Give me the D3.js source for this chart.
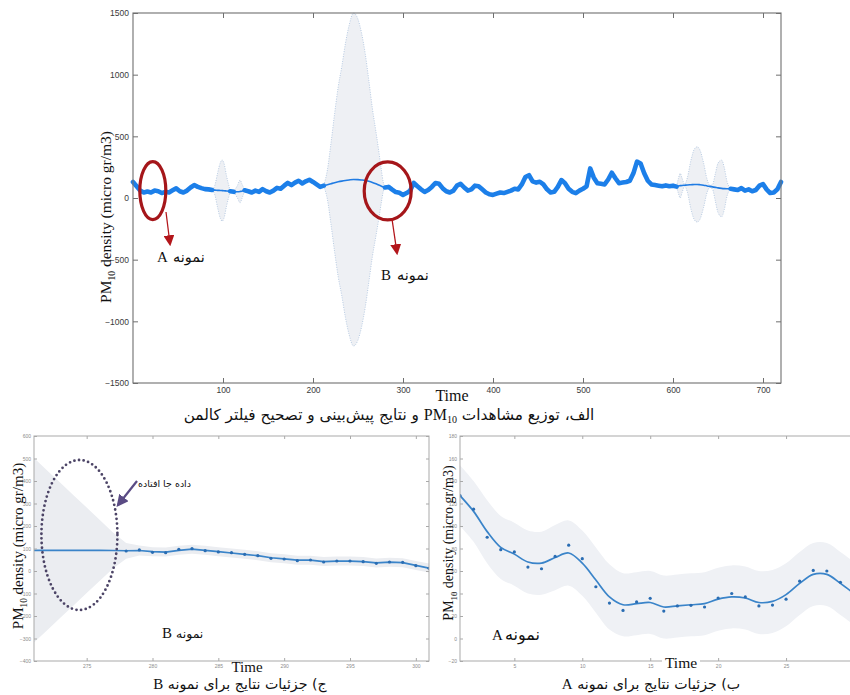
<!DOCTYPE html>
<html>
<head>
<meta charset="utf-8">
<script src="https://cdn.jsdelivr.net/npm/d3@7"></script>
<style>
  body { margin: 0; background: #fff; }
  svg { display: block; }
</style>
</head>
<body>
<svg id="fig" width="850" height="695"></svg>
<script>
// ---------------- data: full PM10 record (every 4th time step) ----------------
const obsTime = d3.range(0, 721, 4);
const obsValue = [
  130, 95, 60, 45, 52, 45, 60, 55, 40, 50,            // t 0-36
  45, 62, 78, 55, 45, 60, 85, 105, 90, 80,            // t 40-76
  72, 70, 65, null, null, null, null, 55, 50, null,   // t 80-116
  null, 62, 55, 45, 60, 50, 72, 55, 45, 60,           // t 120-156
  82, 75, 100, 122, 105, 125, 140, 118, 135, 148,     // t 160-196
  130, 110, 90, 100, null, null, null, null, null, null, // t 200-236
  null, null, null, null, null, null, null, null, null, null, // t 240-276
  85, 90, 68, 48, 42, 25, 40, 60, 122, 95,            // t 280-316
  70, 50, 65, 90, 122, 115, 80, 55, 45, 60,           // t 320-356
  100, 115, 85, 60, 70, 100, 95, 70, 45, 30,          // t 360-396
  25, 35, 45, 40, 50, 60, 75, 70, 110, 170,           // t 400-436
  185, 135, 125, 132, 110, 70, 45, 50, 90, 145,       // t 440-476
  120, 75, 50, 40, 60, 75, 95, 240, 165, 120,         // t 480-516
  115, 110, 150, 205, 160, 120, 125, 130, 140, 200,   // t 520-556
  295, 280, 200, 140, 110, 105, 100, 95, 102, 95,     // t 560-596
  100, 92, null, null, null, null, null, null, null, null, // t 600-636
  null, null, null, null, null, null, 75, 70, 65, 80, // t 640-676
  60, 70, 55, 65, 100, 112, 70, 40, 45, 70,           // t 680-716
  130                                                 // t 720
];

// Kalman prediction over the missing stretches (null = break between stretches)
const kfTime  = [88, 91, 94, 97, 99, 101, 104, 108, null,
                 112, 116, 119, 121, 124, null,
                 212, 216, 220, 224, 228, 232, 236, 240, 245, 250, 254, 258, 262, 266, 270, 273, 276, 278, 280, null,
                 604, 606, 608, 610, 613, 616, 620, 624, 627, 630, 634, 638, 641, 644, 647, 650, 654, 657, 660, 664];
const kfMean  = [65, 64, 62, 61, 60, 59, 57, 55, null,
                 50, 51, 53, 55, 62, null,
                 100, 108, 116, 124, 131, 137, 142, 146, 150, 149, 146, 142, 135, 126, 115, 105, 96, 90, 85, null,
                 92, 98, 100, 102, 104, 106, 108, 110, 110, 108, 104, 98, 94, 90, 86, 82, 78, 76, 75, 75];
const kfSigma = [3, 40, 140, 225, 248, 225, 120, 3, null,
                 3, 50, 92, 60, 3, null,
                 5, 120, 330, 560, 770, 930, 1110, 1250, 1350, 1300, 1190, 1030, 820, 600, 420, 280, 130, 40, 5, null,
                 3, 60, 100, 60, 8, 60, 200, 290, 305, 280, 180, 50, 8, 20, 110, 200, 230, 170, 60, 3];

const topXTicks = [100, 200, 300, 400, 500, 600, 700];
const topYTicks = [-1500, -1000, -500, 0, 500, 1000, 1500];

// ---------------- data: detail of sample A ----------------
const aTime  = [1, 2, 3, 4, 5, 6, 7, 8, 9, 10, 11, 12, 13, 14, 15, 16, 17, 18, 19, 20, 21, 22, 23, 24, 25, 26, 27, 28, 29, 30];
const aObs   = [127, 115, 90, 79, 77, 63.5, 62, 73, 83, 71, 46, 31.5, 25, 32.5, 35.7, 24.4, 29, 29.5, 28, 36, 40, 37, 29, 29.7, 35, 51, 60.5, 60, 50, null];
const aEst   = [127, 113, 95, 81, 75, 68, 67, 72, 76, 67, 52, 37, 30, 31, 32, 28, 29, 30, 31, 35, 37, 36, 32, 33, 39, 49, 57, 57, 49, 40];
const aSigma = [27, 27, 28, 28, 28, 28, 28, 29, 29, 29, 29, 29, 28, 28, 28, 28, 28, 28, 28, 28, 28, 28, 28, 28, 28, 28, 28, 28, 28, 28];
const aXTicks = [5, 10, 15, 20, 25];
const aYTicks = [-20, 0, 20, 40, 60, 80, 100, 120, 140, 160, 180];

// ---------------- data: detail of sample B ----------------
const bTime  = [271, 272, 273, 274, 275, 276, 277, 278, 279, 280, 281, 282, 283, 284, 285, 286, 287, 288, 289, 290, 291, 292, 293, 294, 295, 296, 297, 298, 299, 300, 301];
const bObs   = [null, null, null, null, null, null, null, 89, 93.5, 83, 81.5, 96.7, 99.5, 90.4, 85, 81.6, 74.2, 68.3, 56.4, 53.4, 46, 49, 40, 44.5, 44.5, 41.6, 34.1, 40, 38.6, 23.8, 11.9];
const bEst   = [92, 92, 92, 92, 92, 92, 91, 90, 91, 86, 84, 92, 97, 92, 86, 80, 74, 68, 59, 54, 48, 48, 42, 44, 44, 42, 36, 39, 37, 25, 13];
const bSigma = [410, 355, 300, 245, 190, 135, 80, 35, 22, 20, 20, 20, 20, 20, 20, 20, 20, 20, 20, 20, 20, 20, 20, 20, 20, 20, 20, 20, 20, 20, 20];
const bXTicks = [275, 280, 285, 290, 295, 300];
const bYTicks = [-400, -300, -200, -100, 0, 100, 200, 300, 400, 500, 600];

// ---------------- drawing ----------------
const svg = d3.select("#fig");
const defs = svg.append("defs");
const SERIF = "'Liberation Serif', 'Times New Roman', serif";
const SANS = "'Liberation Sans', Arial, sans-serif";
const FA = "'DejaVu Sans', sans-serif";

function marker(id, color, size) {
  defs.append("marker")
    .attr("id", id).attr("viewBox", "0 0 10 10")
    .attr("refX", 8).attr("refY", 5)
    .attr("markerWidth", size).attr("markerHeight", size)
    .attr("markerUnits", "userSpaceOnUse")
    .attr("orient", "auto")
    .append("path").attr("d", "M0,0 L10,5 L0,10 Z").attr("fill", color);
}
marker("arrowRed", "#b3161b", 11);
marker("arrowPurple", "#5a4b84", 12);

// box with inward ticks on all four sides, labels on left and bottom
function drawFrame(g, x, y, box, xt, yt, o) {
  const ax = (gen, tx, ty, labels) => {
    const a = g.append("g").attr("transform", `translate(${tx},${ty})`)
      .call(gen.tickSizeInner(-o.tick).tickSizeOuter(0).tickPadding(o.pad)
        .tickFormat(labels ? d3.format("d") : () => ""));
    a.select(".domain").remove();
    a.selectAll(".tick line").attr("stroke", o.color).attr("stroke-width", 1);
    a.selectAll("text").attr("font-family", SANS).attr("font-size", o.font)
      .attr("fill", o.label);
    return a;
  };
  ax(d3.axisBottom(x).tickValues(xt), 0, box.B, true);
  ax(d3.axisTop(x).tickValues(xt), 0, box.T, false);
  ax(d3.axisLeft(y).tickValues(yt), box.L, 0, true);
  ax(d3.axisRight(y).tickValues(yt), box.R, 0, false);
  g.append("rect")
    .attr("x", box.L).attr("y", box.T)
    .attr("width", box.R - box.L).attr("height", box.B - box.T)
    .attr("fill", "none").attr("stroke", o.color).attr("stroke-width", o.frame);
}

function yLabel(g, x, yc, size) {
  const t = g.append("text")
    .attr("transform", `translate(${x},${yc}) rotate(-90)`)
    .attr("text-anchor", "middle")
    .attr("font-family", SERIF).attr("font-size", size).attr("fill", "#111");
  t.append("tspan").text("PM");
  t.append("tspan").attr("font-size", size * 0.62).attr("dy", size * 0.25).text("10");
  t.append("tspan").attr("dy", -size * 0.25).text(" density (micro gr/m3)");
}

// ===== top panel: whole record =====
const topBox = { L: 133, R: 781, T: 13, B: 383 };
const xT = d3.scaleLinear().domain([0, 720]).range([topBox.L, topBox.R]);
const yT = d3.scaleLinear().domain([-1500, 1500]).range([topBox.B, topBox.T]);
const gTop = svg.append("g");

const kf = kfTime.map((t, i) => ({ t, m: kfMean[i], s: kfSigma[i] }));
const kfOk = d => d.t != null;
gTop.append("path")
  .attr("d", d3.area().defined(kfOk).curve(d3.curveMonotoneX)
    .x(d => xT(d.t)).y0(d => yT(d.m - d.s)).y1(d => yT(d.m + d.s))(kf))
  .attr("fill", "#eef0f4");
[1, -1].forEach(sign => {
  gTop.append("path")
    .attr("d", d3.line().defined(kfOk).curve(d3.curveMonotoneX)
      .x(d => xT(d.t)).y(d => yT(d.m + sign * d.s))(kf))
    .attr("fill", "none").attr("stroke", "#a7bfdc")
    .attr("stroke-width", 0.8).attr("stroke-dasharray", "1 1.4");
});
gTop.append("path")
  .attr("d", d3.line().defined(kfOk).curve(d3.curveMonotoneX)
    .x(d => xT(d.t)).y(d => yT(d.m))(kf))
  .attr("fill", "none").attr("stroke", "#1f7be3").attr("stroke-width", 1.6);

const obs = obsTime.map((t, i) => ({ t, v: obsValue[i] }));
gTop.append("path")
  .attr("d", d3.line().defined(d => d.v != null)
    .x(d => xT(d.t)).y(d => yT(d.v))(obs))
  .attr("fill", "none").attr("stroke", "#1c7fe9").attr("stroke-width", 4.6)
  .attr("stroke-linejoin", "round").attr("stroke-linecap", "round");

drawFrame(gTop, xT, yT, topBox, topXTicks, topYTicks,
  { tick: 5, pad: 4, color: "#6f6f6f", label: "#3a3a3a", font: 8.5, frame: 1.1 });

yLabel(gTop, 111, 217, 15.5);
gTop.append("text").attr("x", 452).attr("y", 401).attr("text-anchor", "middle")
  .attr("font-family", SERIF).attr("font-size", 16).attr("fill", "#111").text("Time");

// sample markers on the full record
function sampleMark(tc, vc, rx, ry, ax0, ay0, ax1, ay1, letter, lx, ly, faSize) {
  gTop.append("ellipse").attr("cx", xT(tc)).attr("cy", yT(vc))
    .attr("rx", rx).attr("ry", ry)
    .attr("fill", "none").attr("stroke", "#a5161a").attr("stroke-width", 3.2);
  gTop.append("line").attr("x1", ax0).attr("y1", ay0).attr("x2", ax1).attr("y2", ay1)
    .attr("stroke", "#b3161b").attr("stroke-width", 1.3).attr("marker-end", "url(#arrowRed)");
  gTop.append("text").attr("x", lx).attr("y", ly)
    .attr("font-family", SERIF).attr("font-size", 15).attr("fill", "#111").text(letter);
  gTop.append("text").attr("x", lx + 16).attr("y", ly)
    .attr("font-family", FA).attr("font-size", faSize).attr("fill", "#111").text("نمونه");
}
sampleMark(22, 60, 13, 29, 166, 212, 170, 244, "A", 157, 262, 14.5);
sampleMark(283, 57, 23.5, 29, 392, 219, 397, 253, "B", 381, 280, 14.5);

const capTop = gTop.append("text").attr("x", 389).attr("y", 420)
  .attr("direction", "rtl").attr("text-anchor", "middle")
  .attr("font-family", FA).attr("font-size", 15.3).attr("fill", "#111");
capTop.append("tspan").text("الف، توزیع مشاهدات ");
capTop.append("tspan").attr("font-family", SERIF).attr("font-size", 16).text("PM");
capTop.append("tspan").attr("font-family", SERIF).attr("font-size", 10).attr("baseline-shift", "-3").text("10");
capTop.append("tspan").text(" و نتایج پیش‌بینی و تصحیح فیلتر کالمن");

// ===== detail panels =====
function detailPanel(cfg) {
  const { box, x, y, time, est, obsv, sig, xt, yt, curve } = cfg;
  const g = svg.append("g");
  const clipId = cfg.id + "-clip";
  defs.append("clipPath").attr("id", clipId).append("rect")
    .attr("x", box.L).attr("y", box.T).attr("width", box.R - box.L).attr("height", box.B - box.T);
  const inner = g.append("g").attr("clip-path", `url(#${clipId})`);
  const rows = time.map((t, i) => ({ t, e: est[i], o: obsv[i], s: sig[i] }));
  inner.append("path")
    .attr("d", d3.area().curve(curve).x(d => x(d.t))
      .y0(d => y(d.e - d.s)).y1(d => y(d.e + d.s))(rows))
    .attr("fill", cfg.bandFill);
  inner.append("path")
    .attr("d", d3.line().curve(curve).x(d => x(d.t)).y(d => y(d.e))(rows))
    .attr("fill", "none").attr("stroke", "#3a84c9").attr("stroke-width", 1.7);
  inner.selectAll("circle.obs").data(rows.filter(d => d.o != null)).join("circle")
    .attr("class", "obs").attr("cx", d => x(d.t)).attr("cy", d => y(d.o))
    .attr("r", 1.6).attr("fill", "#2a6db3");
  drawFrame(g, x, y, box, xt, yt,
    { tick: 3, pad: 3, color: "#a9a9a9", label: "#8c8c8c", font: 5, frame: 1 });
  return g;
}

// sample B
const boxB = { L: 34, R: 429, T: 436, B: 661 };
const xB = d3.scaleLinear().domain([271, 301]).range([boxB.L, boxB.R]);
const yB = d3.scaleLinear().domain([-400, 600]).range([boxB.B, boxB.T]);
const gB = detailPanel({ id: "pb", box: boxB, x: xB, y: yB, time: bTime, est: bEst,
  obsv: bObs, sig: bSigma, xt: bXTicks, yt: bYTicks, curve: d3.curveLinear, bandFill: "#ebedf1" });

gB.append("ellipse").attr("cx", xB(274.45)).attr("cy", yB(160)).attr("rx", 38).attr("ry", 75)
  .attr("fill", "none").attr("stroke", "#4c4466").attr("stroke-width", 2.8)
  .attr("stroke-linecap", "round").attr("stroke-dasharray", "0 4.7");
gB.append("line").attr("x1", 137).attr("y1", 481).attr("x2", 118).attr("y2", 505)
  .attr("stroke", "#5a4b84").attr("stroke-width", 2.2).attr("marker-end", "url(#arrowPurple)");
gB.append("text").attr("x", 191).attr("y", 487).attr("text-anchor", "end")
  .attr("font-family", FA).attr("font-size", 9.5).attr("fill", "#111").text("داده جا افتاده");
gB.append("text").attr("x", 162).attr("y", 638)
  .attr("font-family", SERIF).attr("font-size", 15).attr("fill", "#111").text("B");
gB.append("text").attr("x", 176).attr("y", 638)
  .attr("font-family", FA).attr("font-size", 12.5).attr("fill", "#111").text("نمونه");
yLabel(gB, 23, 546, 15);
gB.append("text").attr("x", 247).attr("y", 672).attr("text-anchor", "middle")
  .attr("font-family", SERIF).attr("font-size", 15).attr("fill", "#111").text("Time");
const capB = gB.append("text").attr("x", 240).attr("y", 689)
  .attr("direction", "rtl").attr("text-anchor", "middle")
  .attr("font-family", FA).attr("font-size", 14.2).attr("fill", "#111");
capB.append("tspan").text("ج) جزئیات نتایج برای نمونه ");
capB.append("tspan").attr("font-family", SERIF).attr("font-size", 15).text("B");

// sample A
const boxA = { L: 460, R: 854, T: 436, B: 661 };
const xA = d3.scaleLinear().domain([1, 30]).range([boxA.L, boxA.R]);
const yA = d3.scaleLinear().domain([-20, 180]).range([boxA.B, boxA.T]);
const gA = detailPanel({ id: "pa", box: boxA, x: xA, y: yA, time: aTime, est: aEst,
  obsv: aObs, sig: aSigma, xt: aXTicks, yt: aYTicks, curve: d3.curveCatmullRom, bandFill: "#eff1f5" });

gA.append("text").attr("x", 492).attr("y", 640)
  .attr("font-family", SERIF).attr("font-size", 15).attr("fill", "#111").text("A");
gA.append("text").attr("x", 505).attr("y", 640)
  .attr("font-family", FA).attr("font-size", 16).attr("fill", "#111").text("نمونه");
yLabel(gA, 453, 543, 14);
gA.append("rect").attr("x", 662).attr("y", 655).attr("width", 38).attr("height", 14).attr("fill", "#fff");
gA.append("text").attr("x", 681).attr("y", 668).attr("text-anchor", "middle")
  .attr("font-family", SERIF).attr("font-size", 15.5).attr("fill", "#111").text("Time");
const capA = gA.append("text").attr("x", 651).attr("y", 689)
  .attr("direction", "rtl").attr("text-anchor", "middle")
  .attr("font-family", FA).attr("font-size", 14.2).attr("fill", "#111");
capA.append("tspan").text("ب) جزئیات نتایج برای نمونه ");
capA.append("tspan").attr("font-family", SERIF).attr("font-size", 15).text("A");
</script>
</body>
</html>
